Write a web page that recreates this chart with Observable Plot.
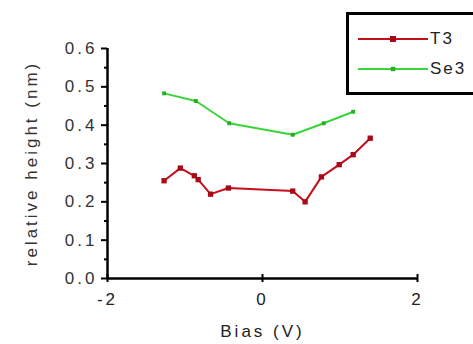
<!DOCTYPE html>
<html>
<head>
<meta charset="utf-8">
<script src="https://cdn.jsdelivr.net/npm/d3@7"></script>
<script src="https://cdn.jsdelivr.net/npm/@observablehq/plot@0.6"></script>
<style>
  html, body { margin: 0; padding: 0; background: #fff; }
  #wrap { position: relative; width: 473px; height: 344px; overflow: hidden; font-family: "Liberation Sans", Arial, sans-serif; }
  #wrap svg text { letter-spacing: 3px; }
  #legend { position: absolute; left: 346px; top: 12px; width: 140px; height: 77px; border: 3px solid #000; background: #fff; }
  .lg { position: absolute; left: 0; font-size: 17px; letter-spacing: 2px; color: #222; }
</style>
</head>
<body>
<div id="wrap"></div>
<script>
const t3Bias   = [-1.27, -1.06, -0.88, -0.83, -0.67, -0.44, 0.39, 0.55, 0.76, 0.99, 1.17, 1.39];
const t3Height = [0.255, 0.288, 0.268, 0.258, 0.220, 0.236, 0.228, 0.200, 0.265, 0.297, 0.323, 0.366];
const se3Bias   = [-1.27, -0.86, -0.43, 0.39, 0.79, 1.17];
const se3Height = [0.483, 0.463, 0.405, 0.375, 0.405, 0.435];
const xTicks = [-2, 0, 2];
const yTicks = [0, 0.1, 0.2, 0.3, 0.4, 0.5, 0.6];
const yMinor = [0.05, 0.15, 0.25, 0.35, 0.45, 0.55];
const seriesNames = ["T3", "Se3"];
const colors = {T3: "#c0101c", Se3: "#3bd43b"};
const markColors = {T3: "#a80818", Se3: "#22b022"};

const t3 = t3Bias.map((x, i) => ({x, y: t3Height[i]}));
const se3 = se3Bias.map((x, i) => ({x, y: se3Height[i]}));

const W = 473, H = 344, ML = 107, MR = 56, MT = 48, MB = 66;
const FW = W - ML - MR, FH = H - MT - MB;
const xDom = [-2, 2], yDom = [0, 0.6];
// tick lengths converted from pixels to data units
const pxX = FW / (xDom[1] - xDom[0]);
const pxY = FH / (yDom[1] - yDom[0]);

const chart = Plot.plot({
  width: W,
  height: H,
  marginLeft: ML,
  marginRight: MR,
  marginTop: MT,
  marginBottom: MB,
  style: {fontFamily: "Liberation Sans, Arial, sans-serif", color: "#000", background: "transparent"},
  x: {type: "linear", domain: xDom},
  y: {type: "linear", domain: yDom},
  marks: [
    Plot.axisX({ticks: xTicks, tickSize: 0, tickPadding: 14, fontSize: 17, fill: "#222", tickFormat: d => String(d), label: "Bias (V)", labelAnchor: "center", labelArrow: "none", labelOffset: 58}),
    Plot.axisY({ticks: yTicks, tickSize: 0, tickPadding: 10, fontSize: 17, fill: "#333", tickFormat: d3.format(".1f"), label: "relative height (nm)", labelAnchor: "center", labelArrow: "none", labelOffset: 83}),
    Plot.ruleY(yTicks, {y: d => d, x1: xDom[0] - 6 / pxX, x2: xDom[0], stroke: "#000", strokeWidth: 2}),
    Plot.ruleY(yMinor, {y: d => d, x1: xDom[0] - 3 / pxX, x2: xDom[0], stroke: "#000", strokeWidth: 2}),
    Plot.ruleX(xTicks, {x: d => d, y1: yDom[0] - 4 / pxY, y2: yDom[0] + 4 / pxY, stroke: "#000", strokeWidth: 2}),
    Plot.ruleX([xDom[0]], {stroke: "#000", strokeWidth: 2.5}),
    Plot.ruleY([yDom[0]], {stroke: "#000", strokeWidth: 2.5}),
    Plot.line(se3, {x: "x", y: "y", stroke: colors.Se3, strokeWidth: 2}),
    Plot.dot(se3, {x: "x", y: "y", symbol: "square", r: 2.2, fill: markColors.Se3}),
    Plot.line(t3, {x: "x", y: "y", stroke: colors.T3, strokeWidth: 2}),
    Plot.dot(t3, {x: "x", y: "y", symbol: "square", r: 3, fill: markColors.T3})
  ]
});
const wrap = document.getElementById("wrap");
wrap.appendChild(chart);

const legend = document.createElement("div");
legend.id = "legend";
seriesNames.forEach((name, i) => {
  const top = 24 + i * 30;
  const row = document.createElementNS("http://www.w3.org/2000/svg", "svg");
  row.setAttribute("width", 75);
  row.setAttribute("height", 12);
  row.style.position = "absolute";
  row.style.left = "9px";
  row.style.top = (top - 6) + "px";
  const s = name === "T3" ? 3 : 2.2;
  row.innerHTML = `<line x1="0" x2="70" y1="6" y2="6" stroke="${colors[name]}" stroke-width="2"/>` +
    `<rect x="${35 - s}" y="${6 - s}" width="${2 * s}" height="${2 * s}" fill="${markColors[name]}"/>`;
  legend.appendChild(row);
  const lab = document.createElement("div");
  lab.className = "lg";
  lab.style.left = "81px";
  lab.style.top = (top - 10) + "px";
  lab.textContent = name;
  legend.appendChild(lab);
});
wrap.appendChild(legend);
</script>
</body>
</html>
